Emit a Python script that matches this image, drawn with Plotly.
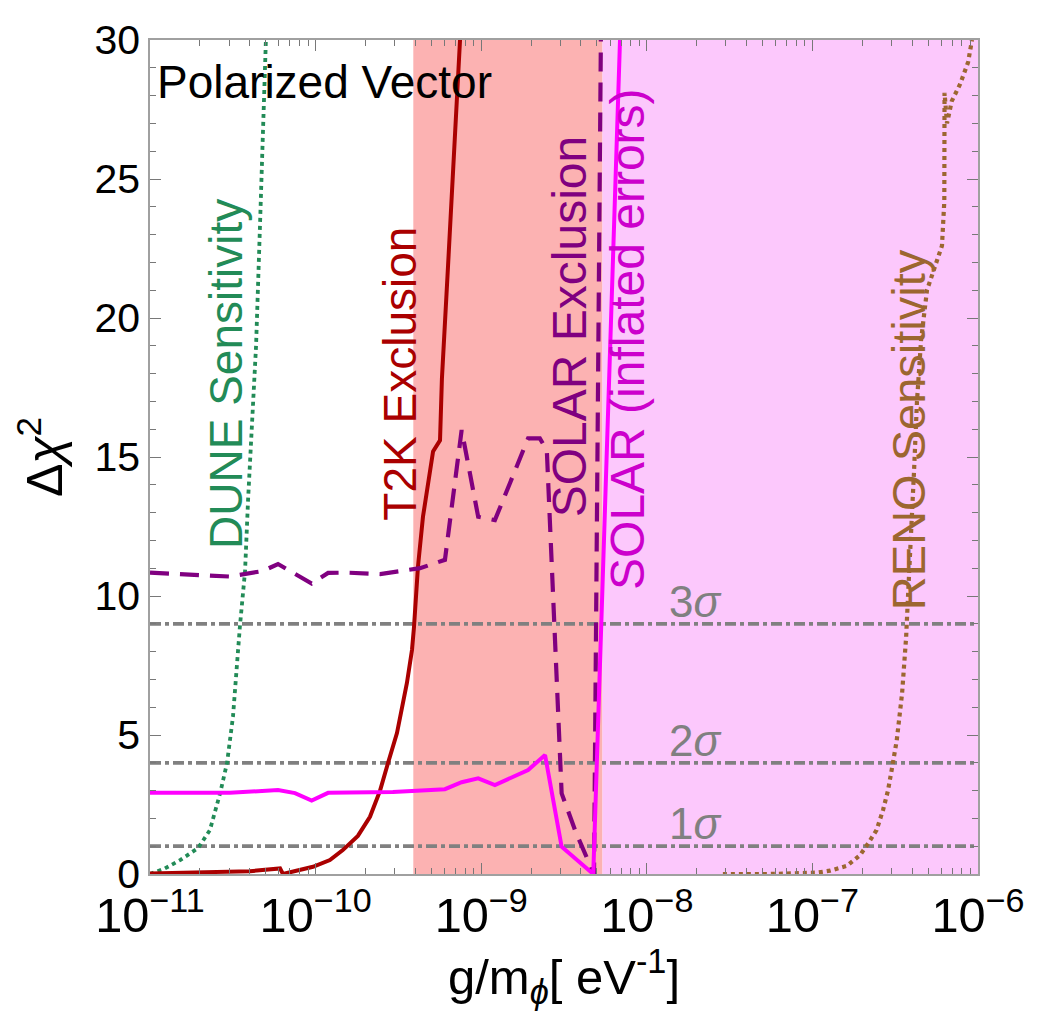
import numpy as np
import plotly.graph_objects as go

# ---------------- data ----------------
# T2K exclusion (solid dark red)
t2k_x = [1.00e-11, 2.00e-11, 4.02e-11, 6.10e-11, 6.35e-11, 9.64e-11, 1.22e-10, 1.46e-10,
         1.80e-10, 2.13e-10, 2.45e-10, 2.74e-10, 3.10e-10, 3.56e-10, 3.82e-10, 3.93e-10,
         4.15e-10, 4.45e-10, 5.12e-10, 5.64e-10, 5.79e-10, 6.31e-10, 7.45e-10]
t2k_y = [0.02, 0.05, 0.10, 0.20, 0.0, 0.26, 0.5, 0.86,
         1.37, 2.06, 3.0, 4.0, 5.07, 6.87, 8.06, 8.9,
         11.05, 12.85, 15.2, 15.6, 17.8, 21.9, 30.0]

# DUNE sensitivity (dotted green)
dune_x = [1.00e-11, 1.23e-11, 1.52e-11, 1.95e-11, 2.30e-11, 2.65e-11, 2.92e-11, 3.17e-11,
          3.49e-11, 3.75e-11, 3.91e-11, 4.13e-11, 4.37e-11, 4.62e-11, 4.81e-11, 5.01e-11]
dune_y = [0.0, 0.2, 0.5, 0.93, 1.58, 2.9, 4.0, 5.66,
          8.9, 10.9, 13.45, 16.0, 19.0, 23.4, 27.0, 30.0]

# SOLAR (inflated errors) (solid magenta)
solinf_x = [1.00e-11, 3.04e-11, 5.93e-11, 7.51e-11, 9.47e-11, 1.19e-10, 2.93e-10, 6.04e-10,
            7.62e-10, 9.59e-10, 1.21e-9, 1.92e-9, 2.43e-9, 3.06e-9, 4.75e-9, 6.89e-9]
solinf_y = [2.92, 2.92, 3.02, 2.91, 2.64, 2.92, 2.95, 3.05,
            3.30, 3.44, 3.20, 3.74, 4.28, 0.98, 0.0, 30.0]

# SOLAR exclusion (dashed purple)
solex_x = [1.00e-11, 3.04e-11, 4.81e-11, 5.93e-11, 9.47e-11, 1.19e-10, 1.54e-10, 2.45e-10,
           4.27e-10, 6.04e-10, 7.62e-10, 9.59e-10, 1.21e-9, 1.92e-9, 2.26e-9, 2.49e-9,
           3.06e-9, 3.73e-9, 4.75e-9, 4.80e-9, 5.28e-9]
solex_y = [10.84, 10.7, 10.9, 11.15, 10.45, 10.83, 10.84, 10.79,
           11.0, 11.3, 15.97, 12.85, 12.73, 15.67, 15.67, 15.25,
           2.9, 1.5, 0.05, 0.0, 30.0]

# RENO sensitivity (dotted brown)
reno_x = [2.88e-8, 5.54e-8, 1.07e-7, 1.28e-7, 1.61e-7, 1.94e-7, 2.17e-7, 2.44e-7,
          2.67e-7, 2.86e-7, 3.01e-7, 3.23e-7, 3.48e-7, 3.68e-7, 3.78e-7, 3.94e-7,
          4.11e-7, 4.28e-7, 4.53e-7, 4.92e-7, 5.50e-7, 6.06e-7, 6.26e-7, 6.26e-7,
          6.28e-7, 6.50e-7, 6.94e-7, 7.78e-7, 8.71e-7, 9.20e-7]
reno_y = [0.0, 0.0, 0.05, 0.12, 0.29, 0.68, 1.1, 1.58,
          2.3, 3.0, 3.74, 4.8, 6.5, 8.5, 10.0, 12.0,
          14.5, 17.0, 19.2, 21.0, 21.9, 22.6, 24.2, 25.7,
          28.1, 27.0, 27.8, 28.4, 29.2, 30.0]

# excluded regions
t2k_region = [3.89e-10, 5.40e-9]
solar_region = [5.40e-9, 1.0e-6]

# sigma levels
sigma_levels = [1, 4, 9]
sigma_labels = ["1<i>σ</i>", "2<i>σ</i>", "3<i>σ</i>"]

x_range = [1e-11, 1e-6]
y_range = [0, 30]

FONT = "Liberation Sans, Arial, sans-serif"

fig = go.Figure()

# shaded regions
for reg, col in [(t2k_region, "rgb(252,178,178)"), (solar_region, "rgb(252,200,252)")]:
    fig.add_trace(go.Scatter(
        x=[reg[0], reg[1], reg[1], reg[0], reg[0]],
        y=[y_range[0], y_range[0], y_range[1], y_range[1], y_range[0]],
        fill="toself", fillcolor=col, line=dict(width=0), mode="lines",
        hoverinfo="skip", showlegend=False))

# sigma lines
for lv in sigma_levels:
    fig.add_trace(go.Scatter(
        x=x_range, y=[lv, lv], mode="lines",
        line=dict(color="rgb(128,128,128)", width=3.8, dash="11px,4px,4px,4px"),
        showlegend=False, hoverinfo="skip"))

fig.add_trace(go.Scatter(x=dune_x, y=dune_y, mode="lines",
                         line=dict(color="rgb(34,139,87)", width=3.8, dash="4px,4px"),
                         showlegend=False))
fig.add_trace(go.Scatter(x=reno_x, y=reno_y, mode="lines",
                         line=dict(color="rgb(156,102,48)", width=4.2, dash="4px,4px"),
                         showlegend=False))
fig.add_trace(go.Scatter(x=t2k_x, y=t2k_y, mode="lines",
                         line=dict(color="rgb(170,0,0)", width=4),
                         showlegend=False))
fig.add_trace(go.Scatter(x=solex_x, y=solex_y, mode="lines",
                         line=dict(color="rgb(128,0,128)", width=4.2, dash="19px,11px"),
                         showlegend=False))
fig.add_trace(go.Scatter(x=solinf_x, y=solinf_y, mode="lines",
                         line=dict(color="rgb(255,0,255)", width=4),
                         showlegend=False))

# rotated labels
labels = [
    ("DUNE Sensitivity", -10.545, 18.0, "rgb(34,139,87)", 46),
    ("T2K Exclusion", -9.49, 18.0, "rgb(170,0,0)", 46),
    ("SOLAR Exclusion", -8.47, 19.7, "rgb(128,0,128)", 48),
    ("SOLAR (inflated errors)", -8.113, 19.25, "rgb(204,0,204)", 48),
    ("RENO Sensitivity", -6.423, 16.0, "rgb(156,102,48)", 47),
]
for txt, lx, ly, col, fs in labels:
    fig.add_annotation(x=lx, y=ly, xref="x", yref="y", text=txt, textangle=-90,
                       showarrow=False, font=dict(family=FONT, size=fs, color=col),
                       xanchor="center", yanchor="middle")

for lv, lab in zip(sigma_levels, sigma_labels):
    fig.add_annotation(x=-7.71, y=lv, xref="x", yref="y", text=lab, showarrow=False,
                       font=dict(family=FONT, size=44, color="rgb(128,128,128)"),
                       xanchor="center", yanchor="bottom", yshift=-4)

fig.add_annotation(x=0.006, y=28.5, xref="paper", yref="y", text="Polarized Vector",
                   showarrow=False, font=dict(family=FONT, size=46, color="black"),
                   xanchor="left", yanchor="middle")

axis_common = dict(showline=True, linecolor="rgb(160,160,160)", linewidth=1.5,
                   mirror="ticks", ticks="inside", ticklen=11, tickwidth=1.2,
                   tickcolor="rgb(120,120,120)", showgrid=False, zeroline=False)

fig.update_xaxes(type="log", range=[np.log10(x_range[0]), np.log10(x_range[1])],
                 dtick=1, exponentformat="power",
                 tickfont=dict(family=FONT, size=39, color="black"),
                 minor=dict(ticks="inside", ticklen=6, tickcolor="rgb(120,120,120)", showgrid=False),
                 title=dict(text="g/m<sub><i>ϕ</i></sub>[ eV<sup>-1</sup>]",
                            font=dict(family=FONT, size=49, color="black"), standoff=4),
                 **axis_common)
fig.update_yaxes(range=y_range, dtick=5,
                 tickfont=dict(family=FONT, size=41, color="black"),
                 minor=dict(ticks="inside", ticklen=6, dtick=1, tickcolor="rgb(120,120,120)", showgrid=False),
                 title=dict(text="Δ<i>χ</i><sup>2</sup>",
                            font=dict(family=FONT, size=50, color="black"), standoff=16),
                 **axis_common)

fig.update_layout(width=1042, height=1021, plot_bgcolor="white", paper_bgcolor="white",
                  margin=dict(l=150, r=64, t=40, b=147, autoexpand=False),
                  font=dict(family=FONT), showlegend=False)

fig.write_html("out.html")
